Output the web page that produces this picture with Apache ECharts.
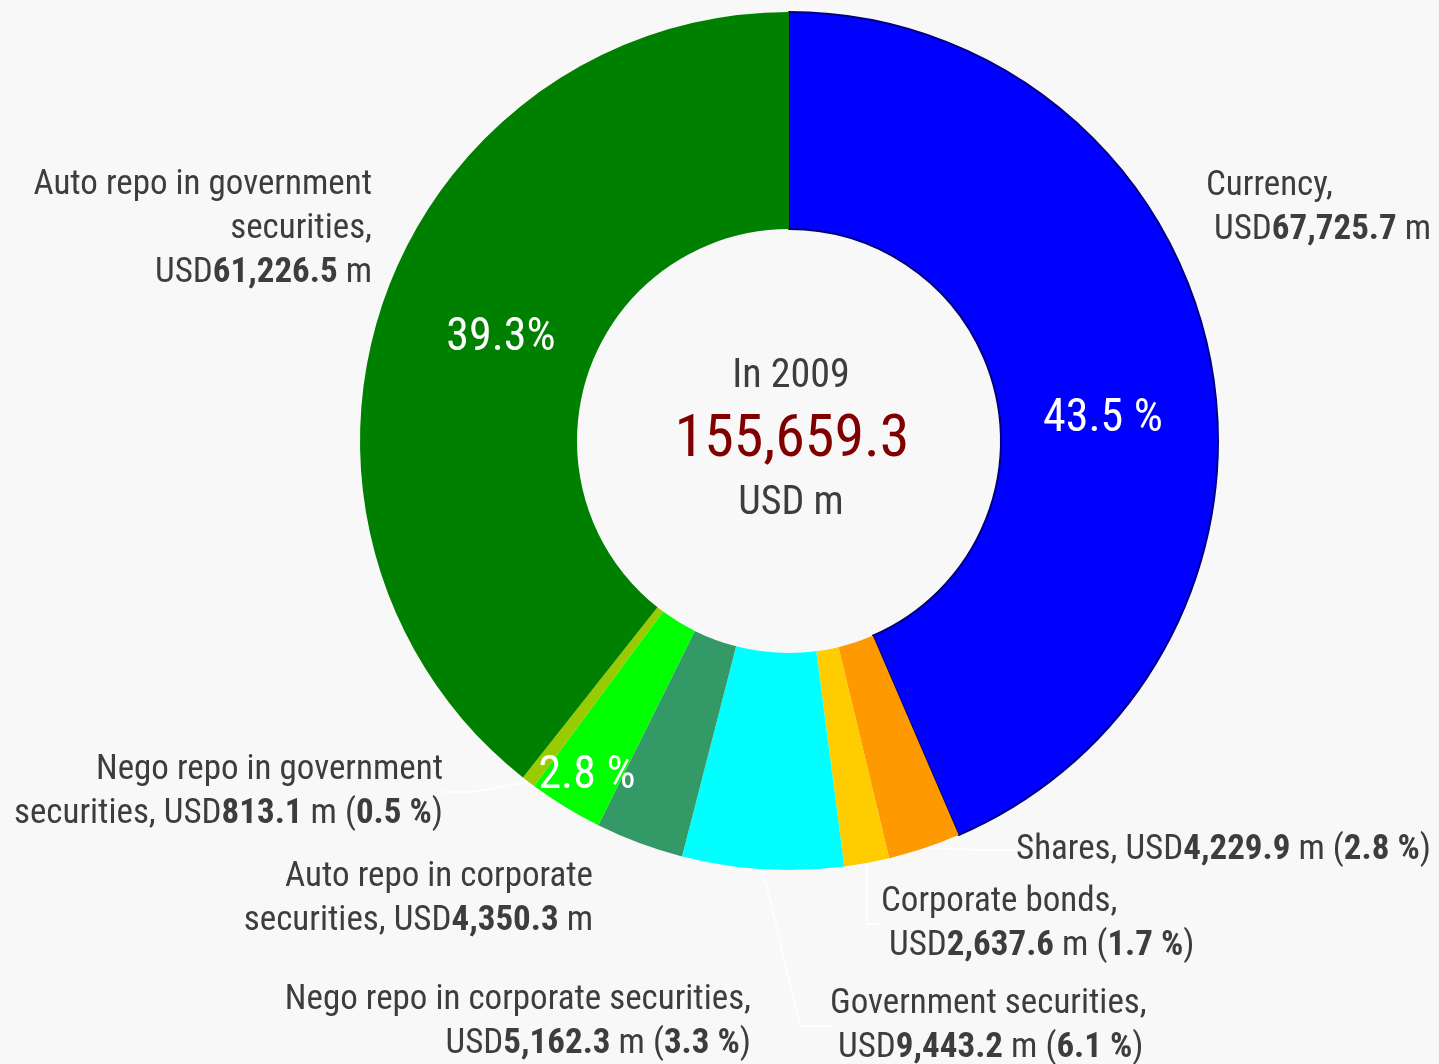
<!DOCTYPE html>
<html>
<head>
<meta charset="utf-8">
<style>
html,body{margin:0;padding:0;background:#f8f8f8;}
#chart{width:1439px;height:1064px;}
</style>
<script src="https://cdn.jsdelivr.net/npm/echarts@6/dist/echarts.min.js"></script>
</head>
<body>
<div id="chart"></div>
<script>
// ---- data ----
const categories = ['Currency', 'Shares', 'Corporate bonds', 'Government securities',
  'Nego repo in corporate securities', 'Auto repo in corporate securities',
  'Nego repo in government securities', 'Auto repo in government securities'];
const values = [67725.7, 4229.9, 2637.6, 9443.2, 5162.3, 4350.3, 813.1, 61226.5];
const valueLabels = ['67,725.7', '4,229.9', '2,637.6', '9,443.2', '5,162.3', '4,350.3', '813.1', '61,226.5'];
const shareLabels = ['43.5 %', '2.8 %', '1.7 %', '6.1 %', '3.3 %', '2.8 %', '0.5 %', '39.3%'];
const innerShown = [true, false, false, false, false, true, false, true];
const centerYear = 'In 2009';
const centerTotal = '155,659.3';
const centerUnit = 'USD m';

// ---- styling / layout ----
const colors = ['#0000ff', '#ff9900', '#ffcc00', '#00ffff', '#339966', '#00ff00', '#99cc00', '#008000'];
const FONT = '"Roboto Condensed", "Liberation Sans Narrow", "Arial Narrow", Roboto, sans-serif';
const TXT = '#3d3d3d';
const FS = 35;
const LH = 44;
const CX = 789, CY = 441;
const showLine = [false, true, true, true, false, false, true, false];

// outer label anchors [x, y, align]
const outerPos = [
  [1206, 208, 'left'],
  [1016, 850, 'left'],
  [881, 924, 'left'],
  [830, 1026, 'left'],
  [751, 1022, 'right'],
  [593, 899, 'right'],
  [443, 792, 'right'],
  [372, 229, 'right']
];
const innerPos = [[1103, 419], null, null, null, null, [587, 776], null, [501, 338]];

function outerText(i) {
  const v = '{b|' + valueLabels[i] + '}';
  const p = '{n| m (}{b|' + shareLabels[i] + '}{n|)}';
  switch (i) {
    case 0: return '{n|' + categories[0] + ',}\n{n| USD}' + v + '{n| m}';
    case 1: return '{n|' + categories[1] + ', USD}' + v + p;
    case 2: return '{n|' + categories[2] + ',}\n{n| USD}' + v + p;
    case 3: return '{n|' + categories[3] + ',}\n{n| USD}' + v + p;
    case 4: return '{n|' + categories[4] + ',}\n{n|USD}' + v + p;
    case 5: return '{n|Auto repo in corporate}\n{n|securities, USD}' + v + '{n| m}';
    case 6: return '{n|Nego repo in government}\n{n|securities, USD}' + v + p;
    case 7: return '{n|Auto repo in government}\n{n|securities,}\n{n|USD}' + v + '{n| m}';
  }
  return '';
}

function richFor(align) {
  return {
    n: {fontFamily: FONT, fontSize: FS, color: TXT, lineHeight: LH, align: align},
    b: {fontFamily: FONT, fontSize: FS, color: TXT, lineHeight: LH, fontWeight: 'bold', align: align}
  };
}

const outerData = categories.map((c, i) => ({
  name: c,
  value: values[i],
  itemStyle: i === 0 ? {color: colors[i], borderColor: '#000080', borderWidth: 2} : {color: colors[i], borderWidth: 0},
  label: {rich: richFor(outerPos[i][2]), align: outerPos[i][2]},
  labelLine: {show: showLine[i]}
}));

const innerData = categories.map((c, i) => ({
  name: c,
  value: values[i],
  label: {show: innerShown[i]}
}));

const chart = echarts.init(document.getElementById('chart'));
chart.setOption({
  backgroundColor: '#f8f8f8',
  animation: false,
  series: [
    {
      type: 'pie',
      center: [CX, CY],
      radius: [212, 429],
      startAngle: 90,
      clockwise: true,
      avoidLabelOverlap: false,
      silent: true,
      data: outerData,
      label: {
        show: true,
        position: 'outer',
        alignTo: 'none',
        formatter: p => outerText(p.dataIndex)
      },
      labelLine: {show: true, length: 20, length2: 30, lineStyle: {color: '#ffffff', width: 1.5}},
      labelLayout: p => ({
        x: outerPos[p.dataIndex][0],
        y: outerPos[p.dataIndex][1],
        align: outerPos[p.dataIndex][2],
        verticalAlign: 'middle'
      })
    },
    {
      type: 'pie',
      center: [CX, CY],
      radius: [212, 429],
      startAngle: 90,
      clockwise: true,
      silent: true,
      avoidLabelOverlap: false,
      itemStyle: {color: 'rgba(0,0,0,0)', borderWidth: 0},
      data: innerData,
      label: {
        show: true,
        position: 'inside',
        fontFamily: FONT,
        fontSize: 46,
        color: '#ffffff',
        formatter: p => shareLabels[p.dataIndex]
      },
      labelLine: {show: false},
      labelLayout: p => {
        const q = innerPos[p.dataIndex];
        return q ? {x: q[0], y: q[1], align: 'center', verticalAlign: 'middle'} : {};
      }
    }
  ],
  graphic: [
    {type: 'text', style: {text: centerYear, x: 791, y: 377, align: 'center', verticalAlign: 'middle', font: '40px ' + FONT, fill: TXT}},
    {type: 'text', style: {text: centerTotal, x: 792, y: 441, align: 'center', verticalAlign: 'middle', font: '60px ' + FONT, fill: '#800000'}},
    {type: 'text', style: {text: centerUnit, x: 791, y: 504, align: 'center', verticalAlign: 'middle', font: '40px ' + FONT, fill: TXT}}
  ]
});
</script>
</body>
</html>
